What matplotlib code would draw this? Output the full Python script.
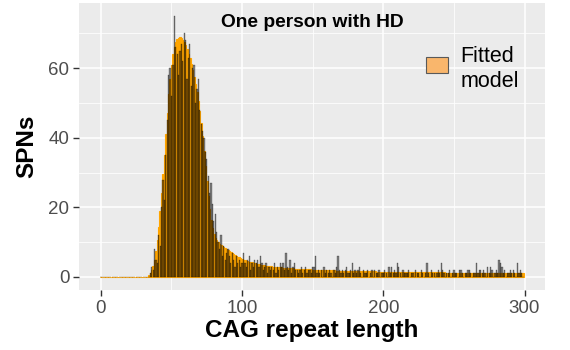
import numpy as np
import matplotlib
matplotlib.use("Agg")
import matplotlib.pyplot as plt
from matplotlib.patches import Patch, Rectangle
from matplotlib.legend_handler import HandlerPatch

plt.rcParams['font.family'] = ['Liberation Sans', 'DejaVu Sans']

# CAG repeat lengths 0..299
cag = np.arange(0, 300)

# Observed SPN counts per CAG length (zero below 35)
observed_low = [0] * 35
observed_peak = [
    1, 3, 2, 8, 5, 4, 12, 9, 20, 28,          # 35-44
    22, 35, 45, 58, 60, 52, 61, 75, 66, 64,   # 45-54
    58, 65, 67, 62, 70, 68, 57, 63, 67, 55,   # 55-64
    60, 61, 50, 54, 57, 48, 44, 42, 40, 36,   # 65-74
    34, 29, 24, 27, 21, 16, 18, 13, 10, 8,    # 75-84
    12, 6, 9, 5, 7, 8,                        # 85-90
]
observed_tail = [
    6, 4, 7, 5, 3, 6, 4, 5, 3, 4,   # 91-100
    7, 4, 3, 5, 6, 2, 4, 3, 5, 4,   # 101-110
    5, 3, 6, 4, 2, 3, 4, 1, 3, 2,   # 111-120
    3, 2, 4, 1, 3, 2, 4, 3, 4, 2,   # 121-130
    7, 3, 2, 5, 1, 3, 4, 2, 2, 1,   # 131-140
    2, 3, 1, 2, 3, 1, 2, 2, 1, 3,   # 141-150
    3, 6, 1, 2, 1, 2, 0, 3, 1, 2,   # 151-160
    1, 2, 1, 0, 2, 1, 3, 6, 2, 1,   # 161-170
    2, 1, 2, 3, 1, 1, 2, 4, 1, 2,   # 171-180
    1, 2, 3, 1, 0, 2, 1, 1, 2, 0,   # 181-190
    1, 2, 0, 2, 1, 1, 2, 0, 1, 1,   # 191-200
    2, 1, 0, 3, 1, 3, 1, 2, 1, 4,   # 201-210
    3, 1, 0, 2, 1, 1, 1, 2, 0, 1,   # 211-220
    1, 0, 2, 1, 1, 0, 2, 1, 0, 1,   # 221-230
    4, 1, 0, 2, 1, 1, 0, 1, 2, 1,   # 231-240
    4, 2, 1, 0, 1, 1, 2, 0, 1, 2,   # 241-250
    1, 1, 0, 2, 2, 1, 0, 1, 1, 2,   # 251-260
    2, 1, 0, 1, 1, 4, 1, 2, 2, 1,   # 261-270
    2, 1, 0, 3, 1, 3, 2, 0, 1, 2,   # 271-280
    1, 5, 4, 3, 1, 2, 0, 1, 1, 2,   # 281-290
    1, 2, 1, 0, 4, 1, 2, 1, 0,      # 291-299
]
observed = np.array(observed_low + observed_peak + observed_tail, dtype=float)

# Fitted model expectation per CAG length
fitted_low = [0.0] * 34
fitted_main = [
    0.5, 1.2, 2.0, 3.2, 5.0, 7.5,                                   # 34-39
    10.5, 14.5, 19.0, 24.0, 29.5, 35.0, 41.0, 47.0, 52.5, 57.0,     # 40-49
    61.0, 64.0, 66.2, 67.6, 68.4, 68.8, 68.9, 68.7, 68.2, 67.5,     # 50-59
    66.6, 65.5, 64.2, 62.8, 61.2, 59.5, 57.6, 55.5, 53.2, 50.6,     # 60-69
    47.6, 44.2, 40.4, 36.3, 32.0, 27.6, 23.4, 19.6, 16.4, 14.0,     # 70-79
    12.3, 11.2, 10.5, 10.0, 9.6, 9.2, 8.9, 8.6, 8.3, 8.0,           # 80-89
    7.7, 7.4, 7.1, 6.8, 6.5, 6.3, 6.0, 5.8, 5.6, 5.4,               # 90-99
    5.2, 5.0, 4.85, 4.7, 4.55, 4.4, 4.28, 4.16, 4.05, 3.95,         # 100-109
    3.85, 3.75, 3.66, 3.58, 3.5, 3.42, 3.35, 3.28, 3.22, 3.16,      # 110-119
    3.1, 3.04, 2.99, 2.94, 2.89, 2.84, 2.8, 2.76, 2.72, 2.68,       # 120-129
    2.64, 2.6, 2.57, 2.54, 2.51, 2.48, 2.45, 2.42, 2.39, 2.36,      # 130-139
    2.33, 2.3, 2.28, 2.26, 2.24, 2.22, 2.2, 2.18, 2.16, 2.14,       # 140-149
    2.12, 2.1, 2.08, 2.06, 2.04, 2.02, 2.0, 1.98, 1.96, 1.94,       # 150-159
    1.92, 1.9, 1.89, 1.88, 1.87, 1.86, 1.85, 1.84, 1.83, 1.82,      # 160-169
    1.81, 1.8, 1.79, 1.78, 1.77, 1.76, 1.75, 1.74, 1.73, 1.72,      # 170-179
    1.71, 1.7, 1.69, 1.68, 1.67, 1.66, 1.65, 1.64, 1.63, 1.62,      # 180-189
    1.61, 1.6, 1.59, 1.58, 1.57, 1.56, 1.55, 1.54, 1.53, 1.52,      # 190-199
    1.51, 1.5, 1.49, 1.49, 1.48, 1.48, 1.47, 1.47, 1.46, 1.46,      # 200-209
    1.45, 1.45, 1.44, 1.44, 1.43, 1.43, 1.42, 1.42, 1.41, 1.41,     # 210-219
    1.4, 1.4, 1.39, 1.39, 1.38, 1.38, 1.37, 1.37, 1.36, 1.36,       # 220-229
    1.35, 1.35, 1.34, 1.34, 1.33, 1.33, 1.32, 1.32, 1.31, 1.31,     # 230-239
    1.3, 1.3, 1.29, 1.29, 1.28, 1.28, 1.27, 1.27, 1.26, 1.26,       # 240-249
    1.25, 1.25, 1.24, 1.24, 1.23, 1.23, 1.22, 1.22, 1.21, 1.21,     # 250-259
    1.2, 1.2, 1.19, 1.19, 1.18, 1.18, 1.17, 1.17, 1.16, 1.16,       # 260-269
    1.15, 1.15, 1.14, 1.14, 1.13, 1.13, 1.12, 1.12, 1.11, 1.11,     # 270-279
    1.1, 1.1, 1.09, 1.09, 1.08, 1.08, 1.07, 1.07, 1.06, 1.06,       # 280-289
    1.05, 1.05, 1.04, 1.04, 1.03, 1.03, 1.02, 1.02, 1.01, 1.01,     # 290-299
]
fitted = np.array(fitted_low + fitted_main)

x_ticks = [0, 100, 200, 300]
y_ticks = [0, 20, 40, 60]

fig = plt.figure(figsize=(5.7, 3.5), dpi=100)
ax = fig.add_axes([79 / 570, 1 - 290 / 350, (545 - 79) / 570, (290 - 3) / 350])
ax.set_facecolor('#EBEBEB')

# fitted model as orange columns, observed counts as translucent dark columns
ax.bar(cag, fitted, width=1.0, color='#FFA500', edgecolor='#FFA500',
       linewidth=0.8, zorder=2)
ax.bar(cag, observed, width=0.9, facecolor=(0, 0, 0, 0.45),
       edgecolor=(0, 0, 0, 0.55), linewidth=0.3, zorder=3)

ymax = max(observed.max(), fitted.max())
ax.set_xlim(-0.5 - 0.05 * 300, 299.5 + 0.05 * 300)
ax.set_ylim(-0.05 * ymax, ymax * 1.05)

ax.set_xticks(x_ticks)
ax.set_yticks(y_ticks)
ax.set_xticks([50, 150, 250], minor=True)
ax.set_yticks([10, 30, 50, 70], minor=True)
ax.grid(which='major', color='white', linewidth=1.1, zorder=0)
ax.grid(which='minor', color='white', linewidth=0.55, zorder=0)
ax.set_axisbelow(True)
for s in ax.spines.values():
    s.set_visible(False)
ax.tick_params(which='major', length=4, width=1.0, color='#333333',
               labelsize=13.5, labelcolor='#4D4D4D', pad=3)
ax.tick_params(which='minor', length=0)

ax.set_xlabel('CAG repeat length', fontsize=17.5, fontweight='bold', labelpad=2)
ax.set_ylabel('SPNs', fontsize=17.5, fontweight='bold', labelpad=7)

ax.text(0.5, 1 - 19 / 287, 'One person with HD', transform=ax.transAxes,
        ha='center', va='center', fontsize=13.8, fontweight='bold', zorder=5)


def raised_key(legend, orig_handle, xdescent, ydescent, width, height, fontsize):
    # key box sits a little above the centre of the two-line label
    return Rectangle((-xdescent, -ydescent + 0.2 * fontsize), width, height)


handle = Patch(facecolor='#F9B66C', edgecolor='#595959', linewidth=0.8)
leg = ax.legend([handle], ['Fitted\nmodel'], loc='center left',
                bbox_to_anchor=(426 / 570, 1 - 69 / 350),
                bbox_transform=fig.transFigure, frameon=False,
                fontsize=15.5, handlelength=1.0, handleheight=0.8,
                handletextpad=0.6, borderpad=0, borderaxespad=0,
                handler_map={Patch: HandlerPatch(patch_func=raised_key)})
leg.set_zorder(6)

fig.savefig('out.png', dpi=100)
